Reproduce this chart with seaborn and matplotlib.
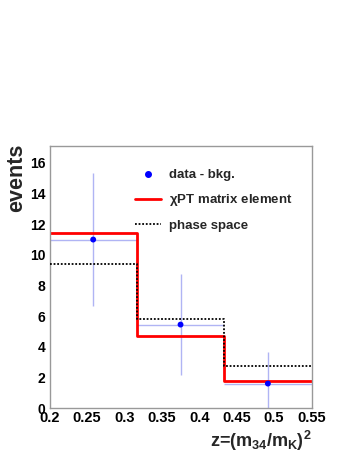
import numpy as np
import matplotlib
matplotlib.use("Agg")
import matplotlib.pyplot as plt
import seaborn as sns
from matplotlib.lines import Line2D
from matplotlib.ticker import MultipleLocator

# bin edges in z = (m34/mK)^2
edges = [0.2, 0.31667, 0.43333, 0.55]
centers = [0.2583, 0.375, 0.4917]

# background-subtracted data with errors
data_vals = [11.0, 5.45, 1.6]
data_errs = [4.35, 3.3, 2.05]

# model predictions
chipt_vals = [11.45, 4.7, 1.75]
phase_vals = [9.4, 5.8, 2.75]

x_ticks = [0.2, 0.25, 0.3, 0.35, 0.4, 0.45, 0.5, 0.55]
x_ticklabels = ['0.2', '0.25', '0.3', '0.35', '0.4', '0.45', '0.5', '0.55']

sns.set_style("white")
plt.rcParams['font.family'] = ['Liberation Sans', 'DejaVu Sans']
plt.rcParams['mathtext.fontset'] = 'custom'
plt.rcParams['mathtext.rm'] = 'Liberation Sans:bold'
plt.rcParams['mathtext.it'] = 'Liberation Sans:bold'
plt.rcParams['mathtext.bf'] = 'Liberation Sans:bold'

fig = plt.figure(figsize=(3.54, 4.58), dpi=100)
ax = fig.add_axes([0.14, 0.109, 0.74, 0.572])

half_w = [(edges[i + 1] - edges[i]) / 2 for i in range(3)]
ax.errorbar(centers, data_vals, yerr=data_errs, xerr=half_w, fmt='none',
            ecolor='#b0b4f4', elinewidth=1, capsize=0, zorder=1)

sns.histplot(x=centers, weights=chipt_vals, bins=edges, element="step",
             fill=False, color='#ff0000', linewidth=2, ax=ax, zorder=2)
sns.histplot(x=centers, weights=phase_vals, bins=edges, element="step",
             fill=False, color='black', linewidth=1.3, linestyle=(0, (1, 1)),
             ax=ax, zorder=3)
sns.scatterplot(x=centers, y=data_vals, color='#0000ff', s=18,
                edgecolor='none', ax=ax, zorder=4)

ax.set_xlim(0.2, 0.55)
ax.set_ylim(0, 17.1)
ax.xaxis.set_minor_locator(MultipleLocator(0.01))
ax.yaxis.set_major_locator(MultipleLocator(2))
ax.yaxis.set_minor_locator(MultipleLocator(0.5))
ax.set_xticks(x_ticks)
ax.set_xticklabels(x_ticklabels)
ax.tick_params(which='both', direction='in', colors='#888888', labelcolor='black',
               top=False, right=False)
ax.tick_params(which='major', length=6, width=0.8)
ax.tick_params(which='minor', length=3, width=0.8)
ax.tick_params(axis='x', labelsize=10.5, pad=2)
ax.tick_params(axis='y', labelsize=10, pad=3)
for lab in ax.get_xticklabels() + ax.get_yticklabels():
    lab.set_fontweight('bold')
for sp in ax.spines.values():
    sp.set_color('#999999')
    sp.set_linewidth(1)

ax.set_ylabel('events', fontsize=15.5, fontweight='bold', loc='top')
ax.yaxis.set_label_coords(-0.085, 1.01)
ax.set_xlabel(r'z=(m$_{34}$/m$_K$)$^2$', fontsize=13, fontweight='bold',
              loc='right', labelpad=3)

handles = [
    Line2D([], [], marker='o', color='#0000ff', linestyle='none', markersize=4),
    Line2D([], [], color='#ff0000', linewidth=2),
    Line2D([], [], color='black', linewidth=1.3, linestyle=(0, (1, 1))),
]
labels = ['data - bkg.', r'$\chi$PT matrix element', 'phase space']
leg = ax.legend(handles, labels, loc='upper left', bbox_to_anchor=(0.28, 0.958),
                frameon=False, fontsize=9.5, handlelength=2.0,
                labelspacing=0.85, handletextpad=0.6)
for t in leg.get_texts():
    t.set_fontweight('bold')

fig.savefig('out.png', dpi=100)
